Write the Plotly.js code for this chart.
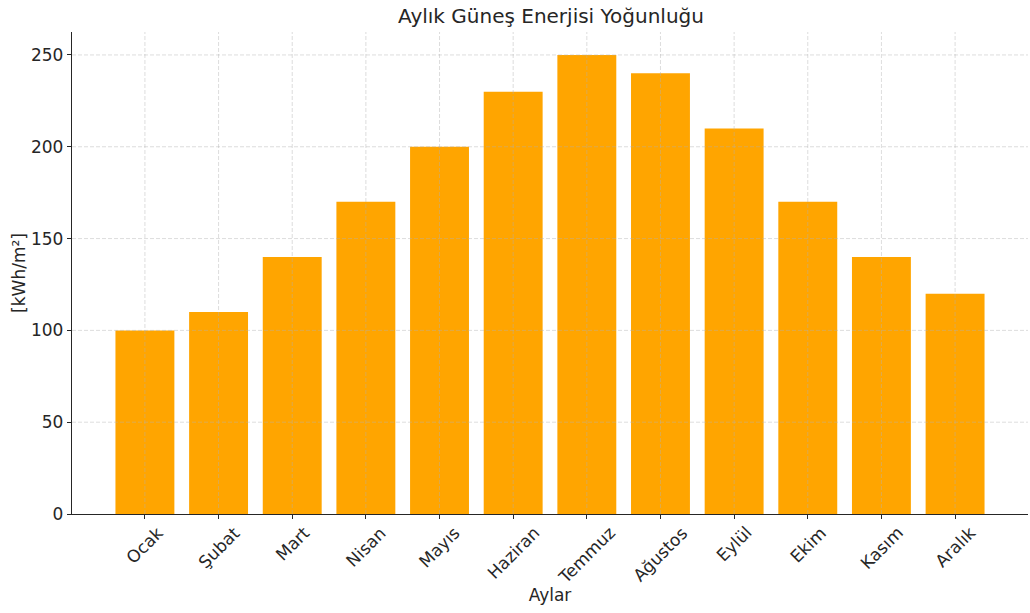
<!DOCTYPE html>
<html>
<head>
<meta charset="utf-8">
<script src="https://cdn.plot.ly/plotly-3.0.1.min.js"></script>
<style>
  html, body { margin: 0; padding: 0; background: #ffffff; }
  #chart { width: 1030px; height: 613px; }
</style>
</head>
<body>
<div id="chart"></div>
<script>
// Monthly solar energy values, kWh/m²
const months = ["Ocak", "Şubat", "Mart", "Nisan", "Mayıs", "Haziran",
                "Temmuz", "Ağustos", "Eylül", "Ekim", "Kasım", "Aralık"];
const energy = [100, 110, 140, 170, 200, 230, 250, 240, 210, 170, 140, 120];
const yTicks = [0, 50, 100, 150, 200, 250];

const FONT = "DejaVu Sans, sans-serif";
const TEXT = "#262626";
const GRID = "rgba(176,176,176,0.55)";

const trace = {
  type: "bar",
  x: months,
  y: energy,
  width: 0.8,
  marker: { color: "#FFA500", line: { width: 0 } },
  hoverinfo: "x+y"
};

// Dashed grid drawn on top of the bars
const shapes = [];
months.forEach(m => shapes.push({
  type: "line", layer: "above", xref: "x", yref: "paper",
  x0: m, x1: m, y0: 0, y1: 1,
  line: { color: GRID, width: 0.8, dash: "4px,2px" }
}));
yTicks.filter(v => v > 0).forEach(v => shapes.push({
  type: "line", layer: "above", xref: "paper", yref: "y",
  x0: 0, x1: 1, y0: v, y1: v,
  line: { color: GRID, width: 0.8, dash: "4px,2px" }
}));

// Rotated month labels centred under each bar
const annotations = months.map(m => ({
  x: m, xref: "x", y: 0, yref: "paper",
  text: m, showarrow: false, textangle: -45,
  xanchor: "center", yanchor: "top", yshift: -6,
  font: { family: FONT, size: 17, color: TEXT }
}));

const layout = {
  width: 1030, height: 613,
  margin: { l: 72, r: 2, t: 32, b: 99 },
  paper_bgcolor: "#ffffff",
  plot_bgcolor: "#ffffff",
  showlegend: false,
  bargap: 0.2,
  title: {
    text: "Aylık Güneş Enerjisi Yoğunluğu",
    x: 0.535, xanchor: "center", y: 0.974, yanchor: "middle",
    font: { family: FONT, size: 20, color: TEXT }
  },
  xaxis: {
    type: "category",
    range: [-0.99, 11.99],
    showgrid: false,
    zeroline: false,
    showline: true, linecolor: TEXT, linewidth: 1.2,
    ticks: "outside", ticklen: 4, tickwidth: 1, tickcolor: TEXT,
    showticklabels: false,
    title: { text: "Aylar", standoff: 70, font: { family: FONT, size: 17, color: TEXT } },
    fixedrange: true
  },
  yaxis: {
    range: [0, 262.5],
    tickvals: yTicks,
    ticktext: yTicks.map(String),
    showgrid: false,
    zeroline: false,
    showline: true, linecolor: TEXT, linewidth: 1.2,
    ticks: "outside", ticklen: 4, tickwidth: 1, tickcolor: TEXT,
    tickfont: { family: FONT, size: 17, color: TEXT },
    title: { text: "[kWh/m²]", standoff: 1, font: { family: FONT, size: 17, color: TEXT } },
    fixedrange: true
  },
  shapes: shapes,
  annotations: annotations
};

Plotly.newPlot("chart", [trace], layout, { displayModeBar: false, staticPlot: true });
</script>
</body>
</html>
